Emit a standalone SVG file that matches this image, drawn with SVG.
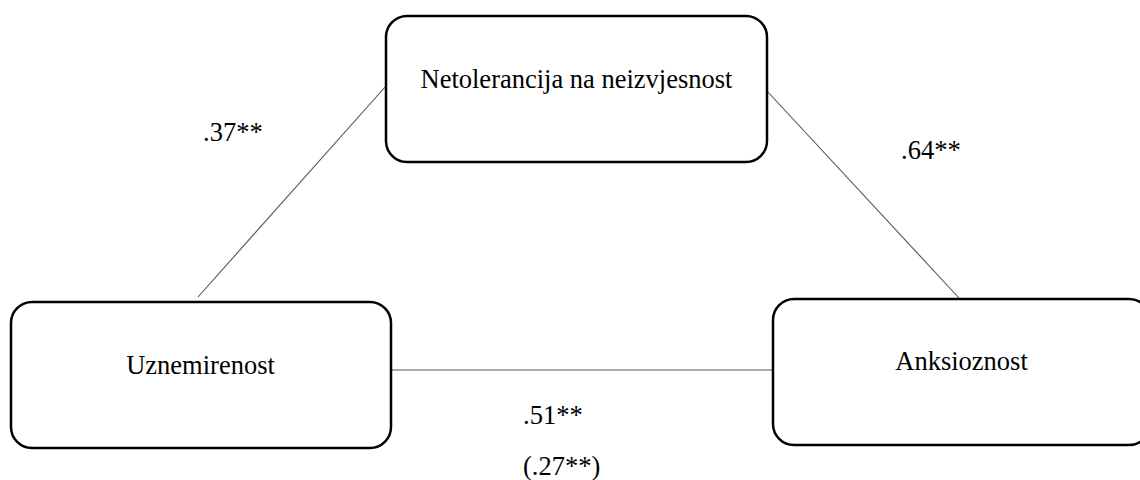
<svg xmlns="http://www.w3.org/2000/svg" width="1140" height="480" viewBox="0 0 1140 480">
<style>
.box{fill:#fff;stroke:#000;stroke-width:2.5}
.t{font-family:"Liberation Serif","Times New Roman",serif;font-size:26.5px;fill:#000}
.c{stroke:#555;stroke-width:1.1;fill:none}
</style>
<rect width="1140" height="480" fill="#fff"/>
<g id="connectors">
<line class="c" x1="386" y1="86" x2="198" y2="297"/>
<line class="c" x1="767" y1="91" x2="959" y2="298"/>
<line class="c" x1="391" y1="370" x2="773" y2="370"/>
</g>
<g id="node-netolerancija">
<rect class="box" x="386" y="16" width="381" height="146" rx="21" ry="21"/>
<text class="t" x="576.5" y="88" text-anchor="middle">Netolerancija na neizvjesnost</text>
</g>
<g id="node-uznemirenost">
<rect class="box" x="11" y="302" width="380" height="146" rx="21" ry="21"/>
<text class="t" x="200.5" y="374" text-anchor="middle">Uznemirenost</text>
</g>
<g id="node-anksioznost">
<rect class="box" x="773" y="299" width="377" height="146" rx="21" ry="21"/>
<text class="t" x="961.5" y="370" text-anchor="middle">Anksioznost</text>
</g>
<g id="labels">
<text class="t" x="203" y="141">.37**</text>
<text class="t" x="901" y="159">.64**</text>
<text class="t" x="523" y="424">.51**</text>
<text class="t" x="523" y="475">(.27**)</text>
</g>
</svg>
